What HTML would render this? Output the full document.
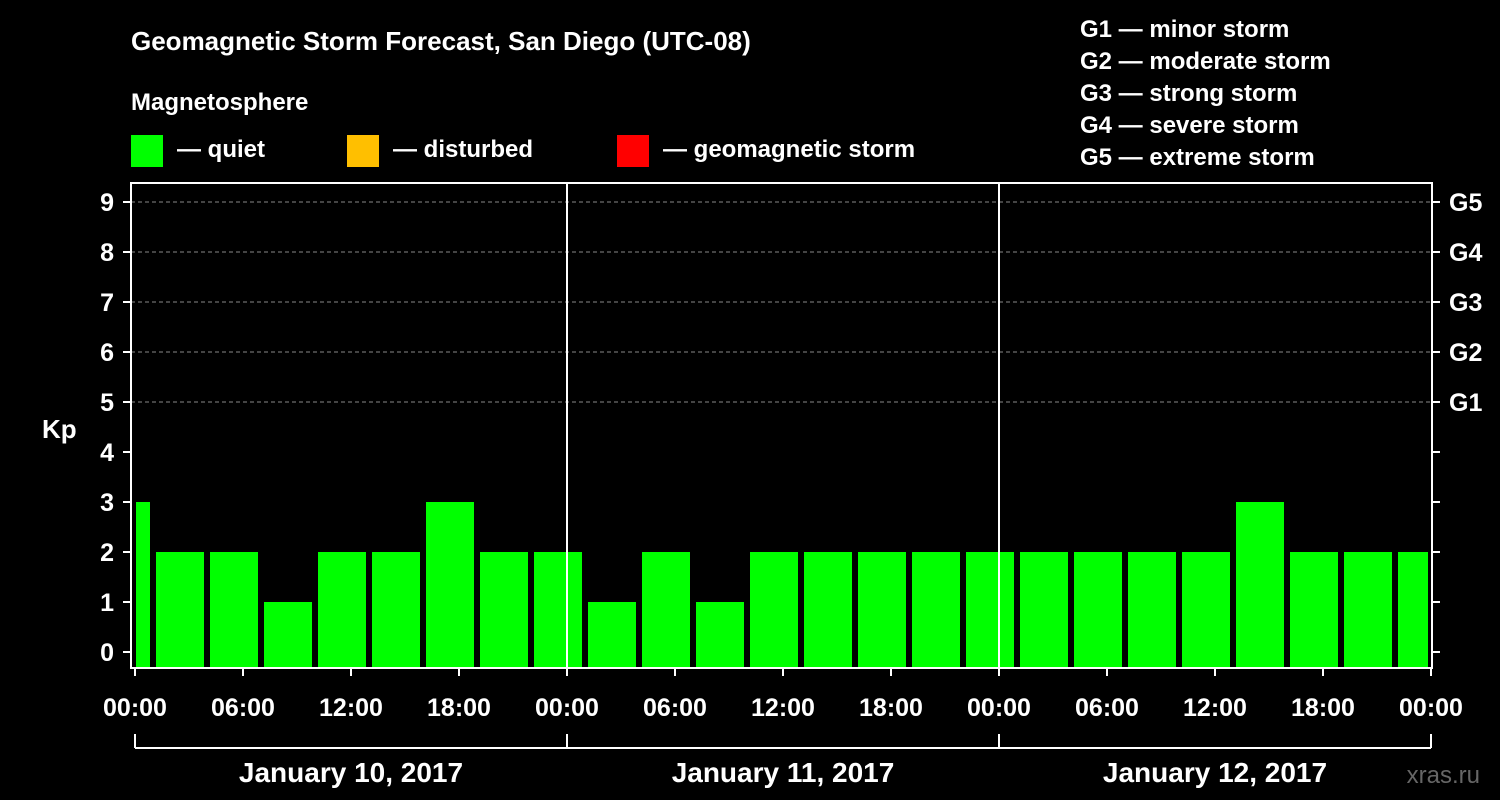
<!DOCTYPE html>
<html><head><meta charset="utf-8"><style>
html,body{margin:0;padding:0;background:#000;}
svg{display:block;font-family:"Liberation Sans",Arial,sans-serif;font-weight:bold;}
</style></head><body>
<svg id="chart" width="1500" height="800" viewBox="0 0 1500 800">
<rect width="1500" height="800" fill="#000"/>
<text x="131" y="50" fill="#fff" font-size="26">Geomagnetic Storm Forecast, San Diego (UTC-08)</text>
<text x="131" y="110" fill="#fff" font-size="24">Magnetosphere</text>
<g><rect x="131" y="135" width="32" height="32" fill="#00ff00"/><text x="177" y="157" fill="#fff" font-size="24">— quiet</text></g>
<g><rect x="347" y="135" width="32" height="32" fill="#ffbf00"/><text x="393" y="157" fill="#fff" font-size="24">— disturbed</text></g>
<g><rect x="617" y="135" width="32" height="32" fill="#ff0000"/><text x="663" y="157" fill="#fff" font-size="24">— geomagnetic storm</text></g>
<g fill="#fff" font-size="24">
<text x="1080" y="37">G1 — minor storm</text>
<text x="1080" y="69">G2 — moderate storm</text>
<text x="1080" y="101">G3 — strong storm</text>
<text x="1080" y="133">G4 — severe storm</text>
<text x="1080" y="165">G5 — extreme storm</text>
</g>
<text x="42" y="438" fill="#fff" font-size="26">Kp</text>
<text x="1480" y="783" fill="#666" font-size="24" text-anchor="end" font-weight="normal">xras.ru</text>
<g id="plot"></g>
</svg>
<script>
const kpValues = [3, 2,2,1,2,2,3,2,2, 1,2,1,2,2,2,2,2, 2,2,2,2,3,2,2,2];
const barStartHours = [-2, 1,4,7,10,13,16,19,22, 25,28,31,34,37,40,43,46, 49,52,55,58,61,64,67,70];
const yTicks = [0,1,2,3,4,5,6,7,8,9];
const gLabels = ["G1","G2","G3","G4","G5"];
const gLevels = [5,6,7,8,9];
const xTickLabels = ["00:00","06:00","12:00","18:00","00:00","06:00","12:00","18:00","00:00","06:00","12:00","18:00","00:00"];
const dayLabels = ["January 10, 2017","January 11, 2017","January 12, 2017"];

const NS="http://www.w3.org/2000/svg";
const g=document.getElementById('plot');
const X0=135, PXH=18, XMIN=131, XMAX=1432, YTOP=183, YBOT=668;
const x=h=>X0+h*PXH;
const y=v=>652-v*50;
function el(t,a,p){const e=document.createElementNS(NS,t);for(const k in a)e.setAttribute(k,a[k]);(p||g).appendChild(e);return e;}
// grid
gLevels.forEach(v=>{const l=el('line',{x1:XMIN,x2:XMAX,y1:y(v),y2:y(v),stroke:'#888','stroke-dasharray':'4,3','stroke-width':1});

});
// bars
kpValues.forEach((v,i)=>{
 let s=x(barStartHours[i])+3, e=x(barStartHours[i]+3)-3;
 s=Math.max(s,x(0)+1); e=Math.min(e,x(72)-3);
 const r=el('rect',{x:s,y:y(v),width:e-s,height:YBOT-y(v),fill:v>=5?'#ff0000':(v>=4?'#ffbf00':'#00ff00')});
 
 
});
// day separators
[24,48].forEach(h=>{const l=el('line',{x1:x(h),x2:x(h),y1:YTOP,y2:YBOT,stroke:'#fff','stroke-width':2});

});
// frame
const f=el('rect',{x:XMIN,y:YTOP,width:XMAX-XMIN,height:YBOT-YTOP,fill:'none',stroke:'#fff','stroke-width':2});


// y ticks
yTicks.forEach(v=>{
 el('line',{x1:XMIN-8,x2:XMIN,y1:y(v),y2:y(v),stroke:'#fff','stroke-width':2});
 el('line',{x1:XMAX,x2:XMAX+8,y1:y(v),y2:y(v),stroke:'#fff','stroke-width':2});
 const t=el('text',{x:114,y:y(v)+9,fill:'#fff','font-size':25,'text-anchor':'end'});t.textContent=v;
 
 
});
gLabels.forEach((s,i)=>{const t=el('text',{x:1449,y:y(gLevels[i])+9,fill:'#fff','font-size':25});t.textContent=s;

});
// x ticks
xTickLabels.forEach((s,i)=>{const xx=x(i*6);
 el('line',{x1:xx,x2:xx,y1:YBOT,y2:YBOT+8,stroke:'#fff','stroke-width':2});
 const t=el('text',{x:xx,y:716,fill:'#fff','font-size':25,'text-anchor':'middle'});t.textContent=s;
 
 
});
// date bracket
el('line',{x1:x(0),x2:x(72),y1:748,y2:748,stroke:'#fff','stroke-width':2});
[0,24,48,72].forEach(h=>el('line',{x1:x(h),x2:x(h),y1:734,y2:748,stroke:'#fff','stroke-width':2}));
dayLabels.forEach((s,i)=>{const t=el('text',{x:x(i*24+12),y:782,fill:'#fff','font-size':28,'text-anchor':'middle'});t.textContent=s;

});
</script>
</body></html>
